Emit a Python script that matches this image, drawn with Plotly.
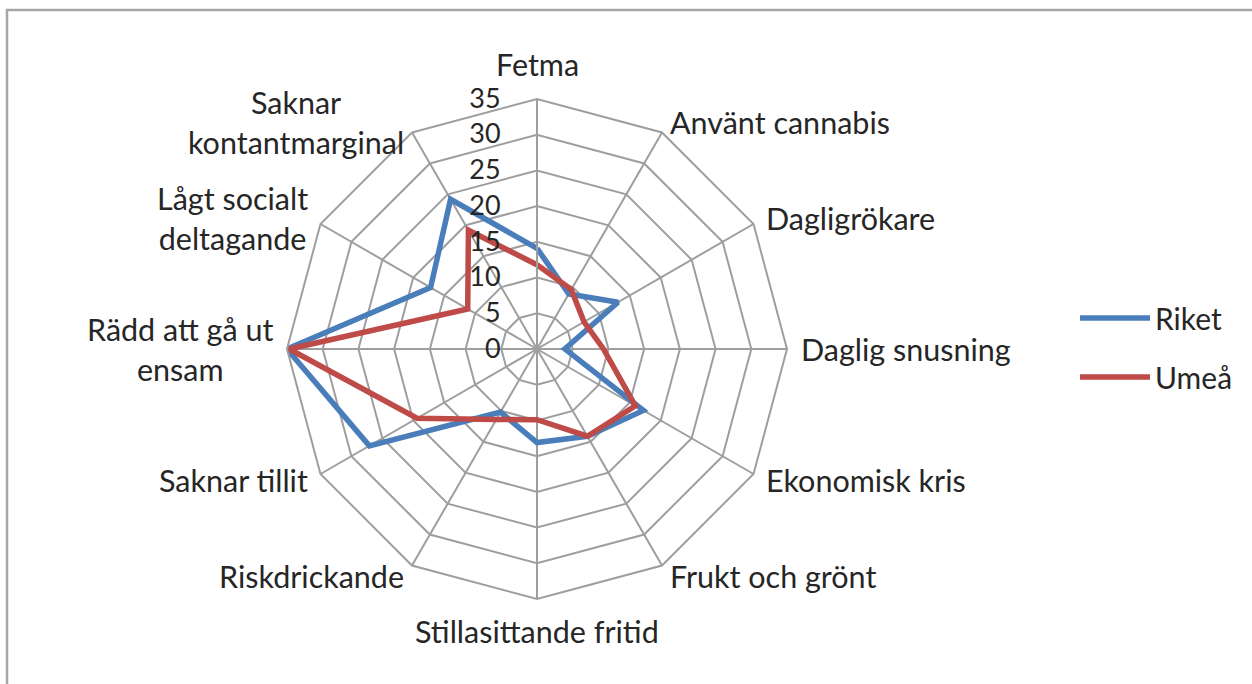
import math
import plotly.graph_objects as go

categories = ["Fetma", "Använt cannabis", "Dagligrökare", "Daglig snusning",
              "Ekonomisk kris", "Frukt och grönt", "Stillasittande fritid",
              "Riskdrickande", "Saknar tillit", "Rädd att gå ut<br>ensam",
              "Lågt socialt<br>deltagande", "Saknar<br>kontantmarginal"]
riket = [14.1, 8.9, 13.1, 3.9, 17.2, 14.1, 13.1, 10.2, 27.1, 35.0, 17.2, 24.2]
umea = [11.8, 9.6, 7.6, 9.3, 15.9, 14.1, 9.9, 11.4, 19.4, 34.7, 11.2, 19.2]
radial_ticks = [0, 5, 10, 15, 20, 25, 30, 35]

W, H = 1252, 684
FONT = "Lato"
GRID = "#9E9E9E"
TXT = "#262626"

# polar geometry (pixels)
CX, CY, R = 537, 349, 250
dom_x = [(CX - R) / W, (CX + R) / W]
dom_y = [1 - (CY + R) / H, 1 - (CY - R) / H]

fig = go.Figure()
fig.add_trace(go.Scatterpolar(
    r=riket + riket[:1], theta=categories + categories[:1], name="Riket",
    legendgroup="a", mode="lines", line=dict(color="#4A7EBB", width=5.5)))
fig.add_trace(go.Scatterpolar(
    r=umea + umea[:1], theta=categories + categories[:1], name="Umeå",
    legendgroup="b", mode="lines", line=dict(color="#BE4B48", width=5.5)))

# category labels placed just outside the outer polygon, Excel-style
annotations = []
n = len(categories)
for i, lab in enumerate(categories):
    ang = math.radians(360 * i / n)
    s, c = math.sin(ang), math.cos(ang)
    pad = 15 if abs(s) < 0.01 and c > 0 else 12
    px = CX + (R + pad) * s
    py = CY - (R + pad) * c
    if s > 0.01:
        xa = "left"
    elif s < -0.01:
        xa = "right"
    else:
        xa = "center"
    if abs(s) < 0.01:
        ya = "bottom" if c > 0 else "top"
    else:
        ya = "middle"
    annotations.append(dict(
        text=lab, x=px / W, y=1 - py / H, xref="paper", yref="paper",
        xanchor=xa, yanchor=ya, align="center", showarrow=False,
        font=dict(family=FONT, size=30.5, color=TXT)))

fig.update_layout(
    width=W, height=H,
    margin=dict(l=0, r=0, t=0, b=0),
    paper_bgcolor="white", plot_bgcolor="white",
    font=dict(family=FONT, size=30, color=TXT),
    polar=dict(
        domain=dict(x=dom_x, y=dom_y),
        bgcolor="white",
        gridshape="linear",
        angularaxis=dict(direction="clockwise", rotation=90,
                         gridcolor=GRID, gridwidth=2,
                         linecolor=GRID, linewidth=2,
                         ticks="", showticklabels=False),
        radialaxis=dict(range=[0, 35], tickvals=radial_ticks, angle=90,
                        side="counterclockwise", tickangle=90,
                        gridcolor=GRID, gridwidth=2,
                        showline=True, linecolor=GRID, linewidth=2,
                        ticks="outside", ticklen=26,
                        tickcolor="rgba(0,0,0,0)",
                        tickfont=dict(size=27, color=TXT)),
    ),
    legend=dict(x=1075 / W, y=1 - 292 / H, xanchor="left", yanchor="top",
                font=dict(size=30, color=TXT), itemwidth=70,
                traceorder="grouped", tracegroupgap=17),
    annotations=annotations,
    shapes=[dict(type="rect", xref="paper", yref="paper",
                 x0=7 / W, x1=1.02, y0=-0.02, y1=1 - 10 / H,
                 line=dict(color="#A6A6A6", width=2.5))],
)

fig.write_html("out.html", config={"displayModeBar": False},
               post_script="document.body.style.margin='0';")
